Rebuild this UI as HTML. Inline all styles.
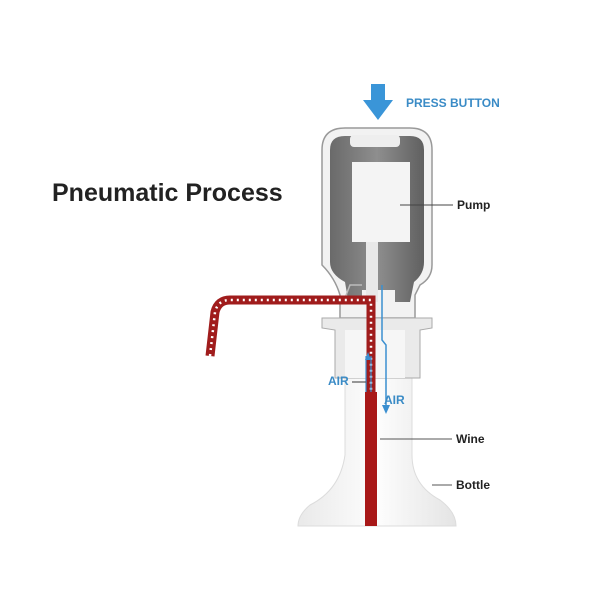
<!DOCTYPE html>
<html><head><style>
body{margin:0;background:#fff;}
svg{display:block;font-family:"Liberation Sans",sans-serif;}
</style></head><body>
<svg width="600" height="600" viewBox="0 0 600 600">
<rect width="600" height="600" fill="#fff"/>
<defs>
<linearGradient id="g1" x1="0" x2="1"><stop offset="0" stop-color="#e9e9e9"/><stop offset=".5" stop-color="#fdfdfd"/><stop offset="1" stop-color="#e4e4e4"/></linearGradient>
<linearGradient id="g2" x1="0" x2="1"><stop offset="0" stop-color="#6a6a6a"/><stop offset=".5" stop-color="#8e8e8e"/><stop offset="1" stop-color="#606060"/></linearGradient>
</defs>
<text x="52" y="201" font-size="25" font-weight="bold" fill="#222">Pneumatic Process</text>
<path d="M345 360 L345 455 Q340 490 310 505 Q298 515 298 526 L456 526 Q456 512 440 500 Q412 485 412 455 L412 360 Z" fill="url(#g1)" stroke="#dcdcdc"/>
<path d="M322 150 Q322 128 345 128 L410 128 Q432 128 432 150 L432 265 Q432 278 420 285 L415 295 L415 318 L340 318 L340 295 Q335 278 322 265 Z" fill="#f2f2f2" stroke="#999" stroke-width="1.5"/>
<path d="M330 150 Q330 136 345 136 L410 136 Q424 136 424 150 L424 262 Q424 274 414 282 L410 302 L395 302 L395 290 L362 290 L362 300 L348 300 L345 282 Q330 274 330 262 Z" fill="url(#g2)"/>
<rect x="350" y="135" width="50" height="12" rx="4" fill="#eee"/>
<rect x="352" y="162" width="58" height="80" fill="#f4f4f4"/>
<rect x="366" y="242" width="12" height="60" fill="#e8e8e8"/>
<path d="M322 318 L432 318 L432 328 L420 330 L420 378 L335 378 L335 330 L322 328 Z" fill="#eaeaea" stroke="#aaa"/>
<rect x="345" y="330" width="60" height="48" fill="#f6f6f6"/>
<path d="M262 298 L345 298 L350 285 L362 285" fill="none" stroke="#bbb" stroke-width="1.5"/>
<path d="M210 356 L215 312 Q218 300 230 300 L371 300 L371 392" fill="none" stroke="#a01c1c" stroke-width="9"/>
<path d="M210 356 L215 312 Q218 300 230 300 L371 300 L371 392" fill="none" stroke="#fff" stroke-width="2.5" stroke-dasharray="2 4"/>
<rect x="365" y="392" width="12" height="134" fill="#a81818"/>
<path d="M382 285 L382 340 L386 345 L386 410" stroke="#3b8fd0" stroke-width="1.5" fill="none"/>
<path d="M382 405 L386 414 L390 405 Z" fill="#3b8fd0"/>
<path d="M366 392 L366 356 M371 392 L371 356" stroke="#3b8fd0" stroke-width="1.2"/>
<path d="M365 360 L368 352 L371 360 Z" fill="#3b8fd0"/>
<line x1="352" y1="382" x2="366" y2="382" stroke="#555" stroke-width="1.2"/>
<text x="328" y="385" font-size="12" font-weight="bold" fill="#3a8bc6">AIR</text>
<text x="384" y="404" font-size="12" font-weight="bold" fill="#3a8bc6">AIR</text>
<path d="M371 84 L385 84 L385 100 L393 100 L378 120 L363 100 L371 100 Z" fill="#3a95d8"/>
<text x="406" y="107" font-size="12" font-weight="bold" fill="#3a8bc6">PRESS BUTTON</text>
<line x1="400" y1="205" x2="453" y2="205" stroke="#444"/>
<text x="457" y="209" font-size="12" font-weight="bold" fill="#222">Pump</text>
<line x1="380" y1="439" x2="452" y2="439" stroke="#555"/>
<text x="456" y="443" font-size="12" font-weight="bold" fill="#222">Wine</text>
<line x1="432" y1="485" x2="452" y2="485" stroke="#555"/>
<text x="456" y="489" font-size="12" font-weight="bold" fill="#222">Bottle</text>
</svg>
</body></html>
